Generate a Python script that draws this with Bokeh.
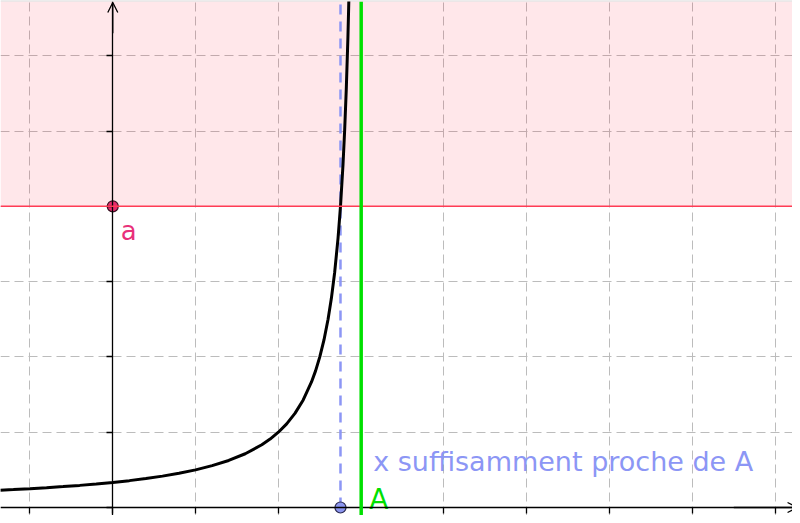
from bokeh.plotting import figure
from bokeh.models import (Range1d, Span, BoxAnnotation, Arrow, OpenHead,
                          FixedTicker, CustomJSTickFormatter)
from bokeh.core.properties import value
from bokeh.embed import file_html
from bokeh.resources import INLINE

# ---- data ----
x_ticks = [-1, 0, 1, 2, 3, 4, 5, 6, 7, 8]
y_ticks = [0, 1, 2, 3, 4, 5, 6]

curve_x = [-1.36, -1.2, -1.0, -0.8, -0.6, -0.4, -0.2, 0.0, 0.2, 0.4, 0.6, 0.8,
           1.0, 1.2, 1.4, 1.6, 1.8, 1.9, 2.0, 2.1, 2.2, 2.3, 2.4, 2.45, 2.5,
           2.55, 2.6, 2.64, 2.68, 2.72, 2.75, 2.78, 2.8, 2.82, 2.84, 2.86]
curve_y = [0.229, 0.238, 0.250, 0.263, 0.278, 0.294, 0.313, 0.333, 0.357,
           0.385, 0.417, 0.455, 0.500, 0.556, 0.625, 0.714, 0.833, 0.909,
           1.000, 1.111, 1.250, 1.429, 1.667, 1.818, 2.000, 2.222, 2.500,
           2.778, 3.125, 3.571, 4.000, 4.545, 5.000, 5.556, 6.250, 7.143]

a_value = 4          # level a
A_value = 3          # asymptote x = A
x_close = 2.75       # x close enough to A

label_a = "a"
label_A = "A"
label_text = "x suffisamment proche de A"

# ---- figure ----
p = figure(width=792, height=515, output_backend="svg", toolbar_location=None,
           x_range=Range1d(-1.356, 8.209), y_range=Range1d(-0.106, 6.720),
           min_border_left=0, min_border_right=0, min_border_bottom=0,
           min_border_top=1, border_fill_color="#b4b4b4",
           background_fill_color="white", outline_line_color=None)

# axes through the origin
for ax, ticks in ((p.xaxis, x_ticks), (p.yaxis, y_ticks)):
    ax.fixed_location = 0
    ax.ticker = FixedTicker(ticks=ticks)
    ax.formatter = CustomJSTickFormatter(code="return ''")
    ax.major_tick_in = 0
    ax.major_tick_out = 6
    ax.minor_tick_line_color = None
    ax.axis_line_color = "black"
    ax.axis_line_width = 1.3
    ax.major_tick_line_color = "black"
    ax.major_tick_line_width = 1.3

for g in (p.xgrid, p.ygrid):
    g.grid_line_color = "#bcbcbc"
    g.grid_line_dash = "9 5"
    g.grid_line_width = 1

# shaded region y >= a
p.add_layout(BoxAnnotation(bottom=a_value, fill_color="#ff142d", fill_alpha=0.1,
                           line_color=None, level="underlay"))

# line y = a
p.add_layout(Span(location=a_value, dimension="width", line_color="#ff3c55",
                  line_width=1.5))

# arrows on axes
p.add_layout(Arrow(end=OpenHead(size=10, line_color="black", line_width=1.3),
                   x_start=0, y_start=6.3, x_end=0, y_end=6.706,
                   line_color="black", line_width=1.3))
p.add_layout(Arrow(end=OpenHead(size=10, line_color="black", line_width=1.3),
                   x_start=7.5, y_start=0, x_end=8.27, y_end=0,
                   line_color="black", line_width=1.3))

# dashed vertical at x close to A
p.segment(x0=[x_close], y0=[0], x1=[x_close], y1=[7], line_color="#8c96f5",
          line_width=2.5, line_dash="10 7")

# asymptote x = A
p.add_layout(Span(location=A_value, dimension="height", line_color="#00e000",
                  line_width=3.5))

# curve
p.line(curve_x, curve_y, line_color="black", line_width=3)

# points
p.scatter([0], [a_value], size=11, fill_color="#e62a6c", line_color="#3a1020",
          line_width=1.2)
p.scatter([x_close], [0], size=11, fill_color="#8c96f0", line_color="#2a2a50",
          line_width=1.2)

# labels
p.text(x=[0], y=[a_value], text=[label_a], x_offset=8, y_offset=25,
       text_font=value("DejaVu Sans"), text_font_size="26px",
       text_color="#e8307a", text_baseline="alphabetic", text_align="left")
p.text(x=[A_value], y=[0], text=[label_A], x_offset=8, y_offset=-8,
       text_font=value("DejaVu Sans"), text_font_size="28px",
       text_color="#00e000", text_baseline="alphabetic", text_align="left")
p.text(x=[A_value], y=[0], text=[label_text], x_offset=12, y_offset=-46,
       text_font=value("DejaVu Sans"), text_font_size="27px",
       text_color="#8c96f5", text_baseline="alphabetic", text_align="left")

open("out.html", "w").write(file_html(p, INLINE))
